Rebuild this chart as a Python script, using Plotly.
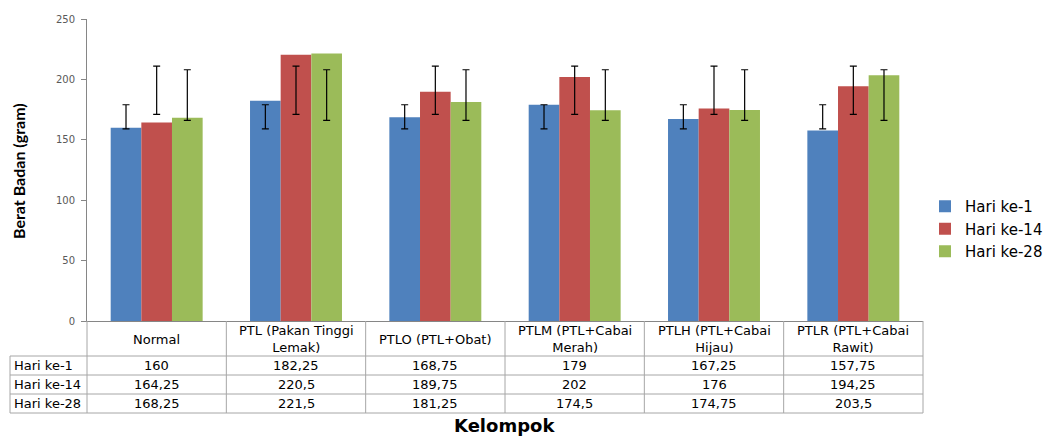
import plotly.graph_objects as go

# ---------------- data ----------------
categories = ["Normal", "PTL (Pakan Tinggi Lemak)", "PTLO (PTL+Obat)",
              "PTLM (PTL+Cabai Merah)", "PTLH (PTL+Cabai Hijau)", "PTLR (PTL+Cabai Rawit)"]
header_labels = ["Normal", "PTL (Pakan Tinggi<br>Lemak)", "PTLO (PTL+Obat)",
                 "PTLM (PTL+Cabai<br>Merah)", "PTLH (PTL+Cabai<br>Hijau)", "PTLR (PTL+Cabai<br>Rawit)"]
series_names = ["Hari ke-1", "Hari ke-14", "Hari ke-28"]

hari_1 = [160, 182.25, 168.75, 179, 167.25, 157.75]
hari_14 = [164.25, 220.5, 189.75, 202, 176, 194.25]
hari_28 = [168.25, 221.5, 181.25, 174.5, 174.75, 203.5]

# error bar limits as drawn in the chart (low / high)
err_low_1 = [159, 159, 159, 159, 159, 159]
err_high_1 = [179, 179, 179, 179, 179, 179]
err_low_14 = [171, 171, 171, 171, 171, 171]
err_high_14 = [211, 211, 211, 211, 211, 211]
err_low_28 = [166, 166, 166, 166, 166, 166]
err_high_28 = [208, 208, 208, 208, 208, 208]

y_ticks = [0, 50, 100, 150, 200, 250]

colors = ["#4F81BD", "#C0504D", "#9BBB59"]

# ---------------- layout helpers ----------------
W, H = 1047, 436
ML, MR, MT, MB = 87, 124, 19, 115
PW = W - ML - MR
PH = H - MT - MB


def py(p):
    """pixel row -> paper y"""
    return (H - MB - p) / PH


def px(p):
    """pixel column -> paper x"""
    return (p - ML) / PW


def fmt(v):
    return f"{v:g}".replace(".", ",")


series_vals = [hari_1, hari_14, hari_28]
err_lows = [err_low_1, err_low_14, err_low_28]
err_highs = [err_high_1, err_high_14, err_high_28]

fig = go.Figure()
for i, (name, vals) in enumerate(zip(series_names, series_vals)):
    fig.add_trace(go.Bar(
        x=categories, y=vals, name=name, offsetgroup=str(i),
        marker=dict(color=colors[i], line=dict(width=0)),
    ))

# error bars (invisible carrier bars in the same offset groups)
for i, (lo, hi) in enumerate(zip(err_lows, err_highs)):
    mid = [(a + b) / 2 for a, b in zip(lo, hi)]
    half = [(b - a) / 2 for a, b in zip(lo, hi)]
    fig.add_trace(go.Bar(
        x=categories, y=mid, offsetgroup=str(i), showlegend=False,
        marker=dict(color="rgba(0,0,0,0)", line=dict(width=0)),
        error_y=dict(type="data", array=half, symmetric=True,
                     color="#000000", thickness=1.2, width=3.5),
        hoverinfo="skip",
    ))

TXT = "DejaVu Sans"
grid_col = "#A6A6A6"
shapes = []
annotations = []

row_lines = [356, 375, 394, 413]
row_centers = [365.5, 384.5, 403.5]
table_left = px(10)

for yl in row_lines:
    shapes.append(dict(type="line", xref="paper", yref="paper",
                       x0=table_left, x1=1, y0=py(yl), y1=py(yl),
                       line=dict(color=grid_col, width=1)))
# left border of row header
shapes.append(dict(type="line", xref="paper", yref="paper",
                   x0=table_left, x1=table_left, y0=py(356), y1=py(413),
                   line=dict(color=grid_col, width=1)))
# axis continuation and right border
for xp in [0, 1]:
    shapes.append(dict(type="line", xref="paper", yref="paper",
                       x0=xp, x1=xp, y0=0, y1=py(413),
                       line=dict(color=grid_col, width=1)))
# category dividers
for k in range(len(categories) - 1):
    shapes.append(dict(type="line", xref="x", yref="paper",
                       x0=k + 0.5, x1=k + 0.5, y0=0, y1=py(413),
                       line=dict(color=grid_col, width=1)))

# header texts
for cat, lab in zip(categories, header_labels):
    annotations.append(dict(xref="x", yref="paper", x=cat, y=py(339),
                            text=lab, showarrow=False, yanchor="middle",
                            font=dict(family=TXT, size=13, color="#000")))
# rows
for r, (name, vals) in enumerate(zip(series_names, series_vals)):
    annotations.append(dict(xref="paper", yref="paper", x=px(12), y=py(row_centers[r]),
                            text=name, showarrow=False, xanchor="left", yanchor="middle",
                            font=dict(family=TXT, size=13, color="#000")))
    for cat, v in zip(categories, vals):
        annotations.append(dict(xref="x", yref="paper", x=cat, y=py(row_centers[r]),
                                text=fmt(v), showarrow=False, yanchor="middle",
                                font=dict(family=TXT, size=13, color="#000")))

# axis titles
annotations.append(dict(xref="paper", yref="paper", x=px(18), y=py(171),
                        text="<b>Berat Badan (gram)</b>", textangle=-90, showarrow=False,
                        xanchor="center", yanchor="middle",
                        font=dict(family="Lato", size=16, color="#000")))
annotations.append(dict(xref="paper", yref="paper", x=px(504), y=py(426),
                        text="<b>Kelompok</b>", showarrow=False,
                        xanchor="center", yanchor="middle",
                        font=dict(family=TXT, size=18, color="#000")))

fig.update_layout(
    width=W, height=H,
    margin=dict(l=ML, r=MR, t=MT, b=MB, pad=0, autoexpand=False),
    paper_bgcolor="white", plot_bgcolor="white",
    barmode="group", bargap=0.34, bargroupgap=0,
    showlegend=True,
    legend=dict(x=px(925), y=py(229), xanchor="left", yanchor="middle",
                font=dict(family=TXT, size=15, color="#000"),
                bgcolor="rgba(0,0,0,0)", traceorder="normal",
                borderwidth=0),
    xaxis=dict(type="category", range=[-0.5, 5.5], showticklabels=False,
               showline=True, linecolor="#868686", linewidth=1,
               ticks="", showgrid=False, zeroline=False),
    yaxis=dict(range=[0, 250], tickvals=y_ticks, ticks="outside", ticklen=5,
               tickcolor="#868686", showline=True, linecolor="#868686", linewidth=1,
               showgrid=False, zeroline=False, ticklabelstandoff=4,
               tickfont=dict(family=TXT, size=10, color="#595959")),
    shapes=shapes, annotations=annotations,
    font=dict(family=TXT),
)

fig.write_html("out.html", config={"displayModeBar": False},
               post_script="document.body.style.margin='0';document.body.style.overflow='hidden';")
